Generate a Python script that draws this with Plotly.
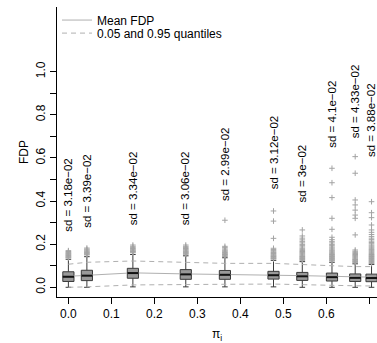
import plotly.graph_objects as go

# Proportion of true nulls (x positions of the boxes)
pi_vals = [0.0, 0.043, 0.15, 0.273, 0.364, 0.477, 0.544, 0.613, 0.667, 0.705]

# Box summaries of the FDP at each pi
q1 = [0.027, 0.031, 0.042, 0.037, 0.037, 0.038, 0.032, 0.029, 0.027, 0.026]
med = [0.049, 0.054, 0.066, 0.060, 0.058, 0.056, 0.051, 0.047, 0.044, 0.043]
q3 = [0.072, 0.079, 0.088, 0.082, 0.078, 0.074, 0.069, 0.066, 0.062, 0.061]
lo_whisk = [0.0, 0.0, 0.002, 0.002, 0.002, 0.002, 0.0, 0.0, 0.0, 0.0]
hi_whisk = [0.130, 0.142, 0.152, 0.146, 0.137, 0.125, 0.119, 0.116, 0.109, 0.106]

# Outlying FDP values per box
outliers = [
    [0.136, 0.139, 0.141, 0.144, 0.147, 0.150, 0.153, 0.156, 0.159, 0.162, 0.166, 0.170],
    [0.150, 0.153, 0.156, 0.159, 0.162, 0.165, 0.169, 0.173, 0.177, 0.182],
    [0.160, 0.163, 0.166, 0.169, 0.172, 0.176, 0.180, 0.185, 0.190, 0.196],
    [0.153, 0.156, 0.159, 0.162, 0.165, 0.168, 0.172, 0.176, 0.180, 0.185, 0.190, 0.196],
    [0.143, 0.146, 0.149, 0.152, 0.155, 0.158, 0.161, 0.165, 0.169, 0.173, 0.178, 0.184,
     0.190, 0.311],
    [0.131, 0.134, 0.137, 0.140, 0.143, 0.146, 0.149, 0.153, 0.157, 0.161, 0.165, 0.170,
     0.175, 0.181, 0.227, 0.307, 0.354],
    [0.125, 0.128, 0.131, 0.134, 0.137, 0.140, 0.143, 0.146, 0.150, 0.154, 0.158, 0.162,
     0.166, 0.171, 0.176, 0.181, 0.187, 0.193, 0.199, 0.206, 0.213, 0.220, 0.228, 0.238, 0.266],
    [0.122, 0.125, 0.128, 0.131, 0.134, 0.137, 0.140, 0.143, 0.146, 0.149, 0.152, 0.156,
     0.160, 0.164, 0.168, 0.172, 0.177, 0.182, 0.187, 0.193, 0.199, 0.206, 0.213, 0.221,
     0.232, 0.269, 0.320, 0.416, 0.485, 0.552],
    [0.114, 0.117, 0.120, 0.123, 0.126, 0.129, 0.132, 0.136, 0.140, 0.144, 0.148, 0.152,
     0.157, 0.162, 0.167, 0.173, 0.243, 0.320, 0.335, 0.358, 0.382, 0.405, 0.529, 0.606],
    [0.110, 0.113, 0.116, 0.119, 0.122, 0.125, 0.128, 0.131, 0.134, 0.137, 0.140, 0.143,
     0.146, 0.149, 0.152, 0.156, 0.160, 0.164, 0.168, 0.172, 0.176, 0.181, 0.186, 0.191,
     0.196, 0.202, 0.208, 0.214, 0.221, 0.228, 0.236, 0.245, 0.255, 0.266, 0.289, 0.323,
     0.346, 0.397],
]

# Mean FDP and the 0.05 / 0.95 quantiles
mean_fdp = [0.051, 0.056, 0.067, 0.062, 0.060, 0.058, 0.054, 0.051, 0.048, 0.047]
q05 = [0.0, 0.002, 0.011, 0.014, 0.014, 0.015, 0.011, 0.008, 0.007, 0.006]
q95 = [0.107, 0.116, 0.122, 0.114, 0.111, 0.111, 0.107, 0.100, 0.096, 0.096]

# Standard deviations printed above each box, and the height where each label starts
sd_text = ["3.18e\u221202", "3.39e\u221202", "3.34e\u221202", "3.06e\u221202", "2.99e\u221202",
           "3.12e\u221202", "3e\u221202", "4.1e\u221202", "4.33e\u221202", "3.88e\u221202"]
sd_label_y = [0.250, 0.266, 0.278, 0.278, 0.390, 0.443, 0.386, 0.640, 0.683, 0.593]

FONT = "Liberation Sans, Arial, Helvetica, sans-serif"
LINE_GREY = "#b0b0b0"

fig = go.Figure()

fig.add_trace(go.Scatter(
    x=pi_vals, y=mean_fdp, mode="lines", name="Mean FDP",
    line=dict(color=LINE_GREY, width=1), legend="legend",
))
fig.add_trace(go.Scatter(
    x=pi_vals, y=q95, mode="lines", name="0.05 and 0.95 quantiles",
    line=dict(color=LINE_GREY, width=1, dash="5px,4px"), legend="legend2",
))
fig.add_trace(go.Scatter(
    x=pi_vals, y=q05, mode="lines", showlegend=False,
    line=dict(color=LINE_GREY, width=1, dash="5px,4px"),
))

# Outlier crosses
ox, oy = [], []
for xv, vals in zip(pi_vals, outliers):
    ox += [xv] * len(vals)
    oy += vals
fig.add_trace(go.Scatter(
    x=ox, y=oy, mode="markers", showlegend=False,
    marker=dict(symbol="cross-thin", size=4, line=dict(color="#a3a3a3", width=1)),
))

BOX_W = 0.026
fig.add_trace(go.Box(
    x=pi_vals, q1=q1, median=med, q3=q3,
    lowerfence=lo_whisk, upperfence=hi_whisk,
    width=BOX_W, whiskerwidth=0.5, boxpoints=False,
    fillcolor="#999999", line=dict(color="#3a3a3a", width=1),
    showlegend=False,
))

# Heavier median bars
mx, my = [], []
for xv, m in zip(pi_vals, med):
    mx += [xv - BOX_W / 2, xv + BOX_W / 2, None]
    my += [m, m, None]
fig.add_trace(go.Scatter(
    x=mx, y=my, mode="lines", showlegend=False,
    line=dict(color="#111111", width=2),
))

for xv, yv, t in zip(pi_vals, sd_label_y, sd_text):
    fig.add_annotation(
        x=xv, y=yv, xref="x", yref="y", text="sd = " + t,
        textangle=-90, xanchor="center", yanchor="bottom", showarrow=False,
        font=dict(family=FONT, size=11.5, color="black"),
    )

axis_common = dict(
    showline=True, linecolor="black", linewidth=1, mirror=False,
    ticks="outside", ticklen=6, tickwidth=1, tickcolor="black",
    showgrid=False, zeroline=False,
    tickfont=dict(family=FONT, size=12, color="black"),
)

fig.update_layout(
    width=377, height=343,
    margin=dict(l=57, r=0, t=7, b=46),
    paper_bgcolor="white", plot_bgcolor="white",
    font=dict(family=FONT, size=12, color="black"),
    xaxis=dict(
        range=[-0.0265, 0.7177],
        tickmode="array", tickvals=[0, 0.1, 0.2, 0.3, 0.4, 0.5, 0.6, 0.7],
        ticktext=["0.0", "0.1", "0.2", "0.3", "0.4", "0.5", "0.6", "0.7"],
        title=dict(text="\u03c0<sub>i</sub>", font=dict(family=FONT, size=12), standoff=9),
        **axis_common,
    ),
    yaxis=dict(
        range=[-0.045, 1.30],
        tickmode="array", tickvals=[0, 0.2, 0.4, 0.6, 0.8, 1.0],
        ticktext=["0.0", "0.2", "0.4", "0.6", "0.8", "1.0"], tickangle=-90,
        minor=dict(tickmode="array", tickvals=[0.1, 0.3, 0.5, 0.7, 0.9],
                   ticks="outside", ticklen=6, tickcolor="black", showgrid=False),
        title=dict(text="FDP", font=dict(family=FONT, size=12), standoff=3),
        **axis_common,
    ),
    legend=dict(x=0.0, y=0.955, xanchor="left", yanchor="middle",
                bgcolor="rgba(0,0,0,0)", font=dict(family=FONT, size=12)),
    legend2=dict(x=0.0, y=0.910, xanchor="left", yanchor="middle",
                 bgcolor="rgba(0,0,0,0)", font=dict(family=FONT, size=12)),
)

fig.write_html("out.html")
